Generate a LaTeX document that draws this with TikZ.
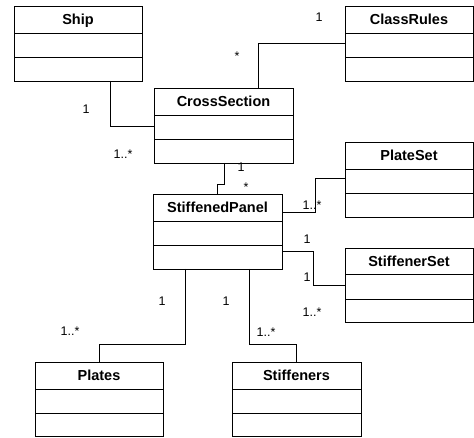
\documentclass[tikz,border=0pt]{standalone}
\usepackage{fontspec}
\setmainfont{Liberation Sans}
\usetikzlibrary{calc}
\tikzset{
  classbox/.style={draw, line width=0.9pt, inner sep=0pt, outer sep=0pt, anchor=north west},
  classtitle/.style={font=\fontsize{14.5}{16}\selectfont\bfseries, anchor=base, inner sep=0pt},
  mult/.style={font=\fontsize{12.5}{14}\selectfont, anchor=base, inner sep=0pt},
  assoc/.style={line width=0.9pt},
  divider/.style={line width=0.9pt}
}
\newcommand{\umlclass}[8]{%
  \node[classbox, minimum width={(#4-#2)*1pt}, minimum height={(#5-#3)*1pt}] (#1) at (#2,#3) {};
  \draw[divider] (#2,#6) -- (#4,#6);
  \draw[divider] (#2,#7) -- (#4,#7);
  \node[classtitle] (#1-title) at ({(#2+#4)/2},{#3+19}) {#8};
}
\begin{document}
\begin{tikzpicture}[x=1pt,y=-1pt]
\useasboundingbox[fill=white] (0,0) rectangle (474,438);
\umlclass{ship}{14}{6}{142}{81}{33}{57}{Ship}
\umlclass{rules}{345}{6}{473}{81}{33}{57}{ClassRules}
\umlclass{cross}{154}{88}{293}{163}{115}{139}{CrossSection}
\umlclass{plateset}{345}{142}{473}{217}{169}{193}{PlateSet}
\umlclass{panel}{153}{194}{282}{269}{221}{245}{StiffenedPanel}
\umlclass{stifset}{345}{248}{473}{322}{274}{299}{StiffenerSet}
\umlclass{plates}{35}{362}{163}{436}{389}{413}{Plates}
\umlclass{stiffeners}{232}{362}{361}{436}{389}{413}{Stiffeners}

% bend points
\coordinate (b1) at (110,126);
\coordinate (b2) at (258,43);
\coordinate (b3a) at (224,184);
\coordinate (b3b) at (217,184);
\coordinate (b4a) at (315,212);
\coordinate (b4b) at (315,178);
\coordinate (b5a) at (313,251);
\coordinate (b5b) at (313,285);
\coordinate (b6a) at (185,344);
\coordinate (b6b) at (99,344);
\coordinate (b7a) at (249,344);
\coordinate (b7b) at (296,344);

\draw[assoc] (ship.south -| b1) -- (b1) -- (cross.west |- b1);
\draw[assoc] (cross.north -| b2) -- (b2) -- (rules.west |- b2);
\draw[assoc] (cross.south -| b3a) -- (b3a) -- (b3b) -- (panel.north -| b3b);
\draw[assoc] (panel.east |- b4a) -- (b4a) -- (b4b) -- (plateset.west |- b4b);
\draw[assoc] (panel.east |- b5a) -- (b5a) -- (b5b) -- (stifset.west |- b5b);
\draw[assoc] (panel.south -| b6a) -- (b6a) -- (b6b) -- (plates.north -| b6b);
\draw[assoc] (panel.south -| b7a) -- (b7a) -- (b7b) -- (stiffeners.north -| b7b);

% multiplicities
\node[mult] (m1) at (86,114) {1};
\node[mult] (m2) at (123,159) {1..*};
\node[mult] (m3) at (237,61) {*};
\node[mult] (m4) at (319,22) {1};
\node[mult] (m5) at (241,172) {1};
\node[mult] (m6) at (246,192) {*};
\node[mult] (m7) at (312,210) {1..*};
\node[mult] (m8) at (307,244) {1};
\node[mult] (m9) at (307,282) {1};
\node[mult] (m10) at (312,317) {1..*};
\node[mult] (m11) at (162,306) {1};
\node[mult] (m12) at (70,336) {1..*};
\node[mult] (m13) at (226,306) {1};
\node[mult] (m14) at (266,337) {1..*};
\end{tikzpicture}
\end{document}
